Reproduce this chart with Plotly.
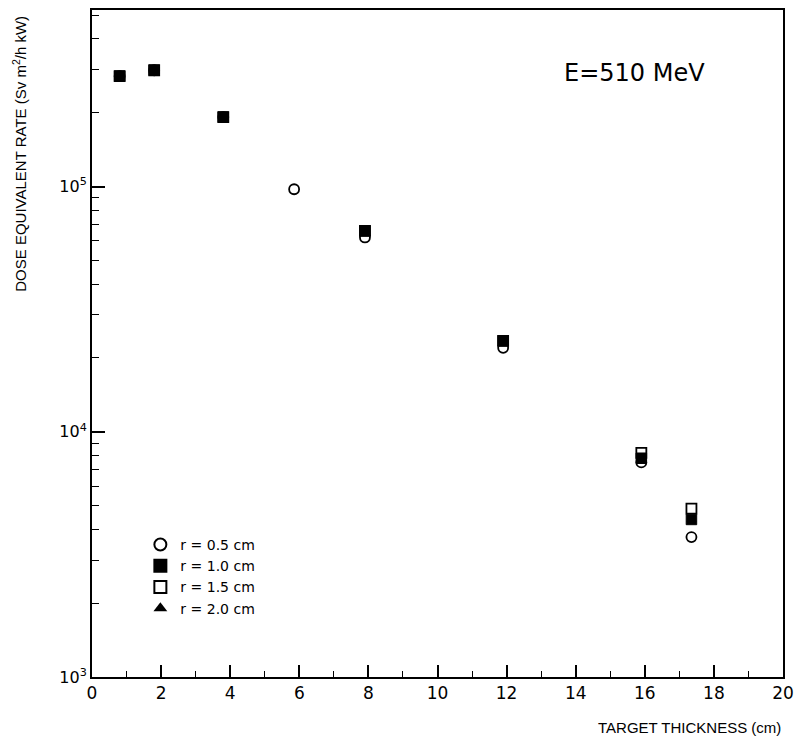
import plotly.graph_objects as go

# ---- data ----
x_r05 = [0.8, 1.8, 3.8, 5.85, 7.9, 11.9, 15.9, 17.35]
y_r05 = [2.82e5, 2.98e5, 1.92e5, 9.75e4, 6.2e4, 2.2e4, 7.5e3, 3.72e3]

x_r10 = [0.8, 1.8, 3.8, 7.9, 11.9, 15.9, 17.35]
y_r10 = [2.82e5, 2.98e5, 1.92e5, 6.6e4, 2.35e4, 7.8e3, 4.39e3]

x_r15 = [0.8, 1.8, 3.8, 7.9, 11.9, 15.9, 17.35]
y_r15 = [2.82e5, 2.98e5, 1.92e5, 6.6e4, 2.35e4, 8.2e3, 4.86e3]

x_r20 = [0.8, 1.8, 3.8, 7.9, 11.9, 15.9, 17.35]
y_r20 = [2.82e5, 2.98e5, 1.92e5, 6.6e4, 2.35e4, 7.8e3, 4.39e3]

x_ticks = list(range(0, 21, 2))
y_major = [1e3, 1e4, 1e5]
y_major_text = ["10<sup>3</sup>", "10<sup>4</sup>", "10<sup>5</sup>"]

FONT = "DejaVu Sans"
NARROW = "Liberation Sans Narrow, Liberation Sans"

fig = go.Figure()

# draw order: hidden triangles, circles, open squares, filled squares on top
fig.add_trace(go.Scatter(x=x_r20, y=y_r20, mode="markers", name="r = 2.0 cm", legendrank=4,
                         marker=dict(symbol="triangle-up", size=9, color="black",
                                     line=dict(color="black", width=0))))
fig.add_trace(go.Scatter(x=x_r05, y=y_r05, mode="markers", name="r = 0.5 cm", legendrank=1,
                         marker=dict(symbol="circle", size=10, color="white",
                                     line=dict(color="black", width=1.8))))
fig.add_trace(go.Scatter(x=x_r15, y=y_r15, mode="markers", name="r = 1.5 cm", legendrank=3,
                         marker=dict(symbol="square", size=10, color="white",
                                     line=dict(color="black", width=1.8))))
fig.add_trace(go.Scatter(x=x_r10, y=y_r10, mode="markers", name="r = 1.0 cm", legendrank=2,
                         marker=dict(symbol="square", size=10.5, color="black",
                                     line=dict(color="black", width=1))))

minor_vals = [m * 10 ** e for e in (3, 4, 5) for m in range(2, 10)]

fig.update_layout(
    width=802, height=741,
    margin=dict(l=92, r=16, t=8, b=64),
    paper_bgcolor="white", plot_bgcolor="white",
    font=dict(family=FONT, color="black", size=15),
    showlegend=True,
    legend=dict(x=0.07, y=0.222, xanchor="left", yanchor="top",
                bgcolor="rgba(0,0,0,0)", font=dict(family=FONT, size=14),
                itemsizing="constant", tracegroupgap=0),
    xaxis=dict(range=[0, 20], tickmode="array", tickvals=x_ticks,
               ticks="inside", ticklen=12, tickwidth=1.5, tickcolor="black",
               showline=True, linecolor="black", linewidth=2, mirror=True,
               showgrid=False, zeroline=False,
               tickfont=dict(family=FONT, size=17),
               minor=dict(dtick=1, ticks="inside", ticklen=6, tickwidth=1.2,
                          tickcolor="black", showgrid=False)),
    yaxis=dict(type="log", range=[3, 5.72], tickmode="array",
               tickvals=y_major, ticktext=y_major_text,
               ticks="inside", ticklen=13, tickwidth=1.5, tickcolor="black",
               showline=True, linecolor="black", linewidth=2, mirror=True,
               showgrid=False, zeroline=False,
               tickfont=dict(family=FONT, size=16),
               minor=dict(tickmode="array", tickvals=minor_vals, ticks="inside",
                          ticklen=7, tickwidth=1.2, tickcolor="black", showgrid=False)),
    annotations=[
        dict(text="E=510 MeV", x=0.785, y=0.905, xref="paper", yref="paper",
             xanchor="center", yanchor="middle", showarrow=False,
             font=dict(family=FONT, size=24)),
        dict(text="TARGET THICKNESS (cm)", x=1.0, y=-0.06, xref="paper", yref="paper",
             xanchor="right", yanchor="top", showarrow=False,
             font=dict(family=NARROW, size=15)),
        dict(text="DOSE EQUIVALENT RATE (Sv m<sup>2</sup>/h kW)", x=-0.105, y=0.995,
             xref="paper", yref="paper", xanchor="center", yanchor="top",
             textangle=-90, showarrow=False,
             font=dict(family=NARROW, size=15)),
    ],
)

fig.write_html("out.html")
